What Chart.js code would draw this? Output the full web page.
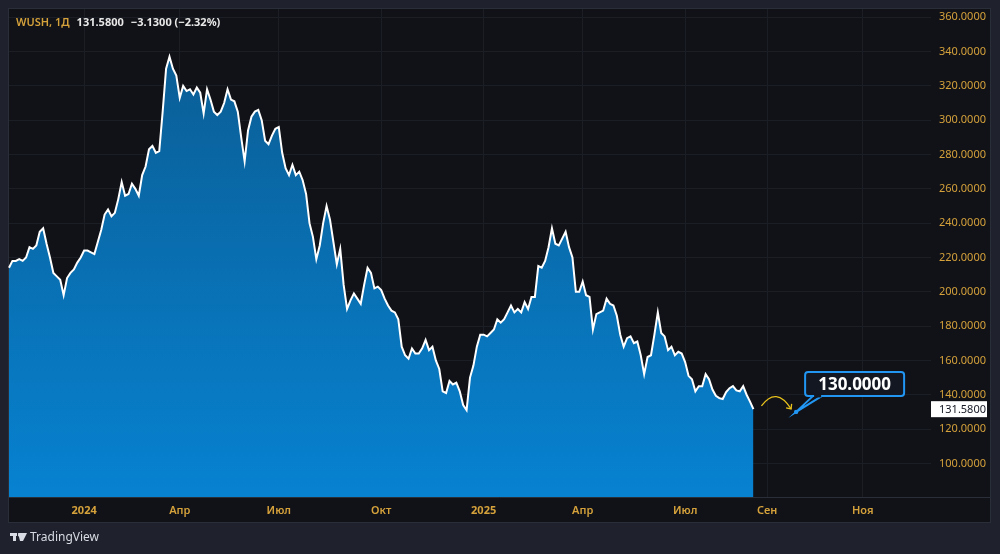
<!DOCTYPE html>
<html><head><meta charset="utf-8">
<script src="https://cdn.jsdelivr.net/npm/chart.js@4"></script>
<style>html,body{margin:0;padding:0;background:#1f222c;overflow:hidden}canvas{display:block}</style>
</head><body><canvas id="c" width="1000" height="554"></canvas>
<script>
const symbol = 'WUSH, 1Д';
const lastPrice = 131.58;
const priceChange = -3.13;
const priceChangePct = -2.32;

// Close prices, one slot per bar group
const prices = [
214,218,218,219,218,220,226,225,227,235,237,228,220,211,209,207,198,208,211,213,
217,220,224,224,223,222,229,236,245,248,244,246,254,264,256,257,263,260,256,268,
273,283,285,281,282,305,330,337,330,326,313,320,317,318,315,319,316,304,318,312,
305,303,305,310,318,312,311,305,290,276,294,302,305,306,300,288,286,291,295,296,
281,272,268,274,268,270,265,257,240,232,219,227,240,250,242,229,216,225,204,190,
195,199,196,193,204,214,211,202,203,201,196,192,189,188,184,168,163,161,167,164,
164,167,172,166,168,160,155,142,141,148,146,147,142,134,131,150,157,168,175,175,
174,176,178,184,182,184,188,192,188,190,188,194,190,197,197,215,214,218,226,237,
228,227,231,235,226,220,200,200,206,198,197,178,187,188,189,196,193,192,186,175,
168,173,174,170,171,163,152,162,163,175,188,176,174,166,168,163,165,164,159,151,
149,142,145,145,152,149,143,139.4,138,137.5,141.5,143.8,145,142.5,142,145,140,136,131.58
];

// X axis: month tick labels and the bar slot where each month starts
const tickNames = ['2024','Апр','Июл','Окт','2025','Апр','Июл','Сен','Ноя'];
const tickSlots = [22, 50, 79, 109, 139, 168, 198, 222, 250];
const totalSlots = 271;

// Y axis range and step
const yMin = 80.4, yMax = 364.8, yStep = 20;

// Price target note
const targetPrice = 130;
const targetSlot = 230.5;

const categories = Array.from({length: totalSlots}, (_, i) => {
  const k = tickSlots.indexOf(i);
  return k >= 0 ? tickNames[k] : '';
});

const GOLD = '#d4a13b';
const FONT = '"Noto Sans", "Open Sans", Roboto, sans-serif';

const bgPlugin = {
  id: 'bg',
  beforeDraw(chart) {
    const c = chart.ctx;
    c.save();
    c.fillStyle = '#1f222c';
    c.fillRect(0, 0, chart.width, chart.height);
    c.fillStyle = '#111217';
    c.fillRect(9, 9, 981, 513);
    c.strokeStyle = '#2a2e39';
    c.lineWidth = 1;
    c.strokeRect(8.5, 8.5, 982, 514);
    c.restore();
  },
  afterDraw(chart) {
    const c = chart.ctx;
    const xs = chart.scales.x, ys = chart.scales.y;
    const area = chart.chartArea;
    c.save();
    c.strokeStyle = '#2a2e39';
    c.lineWidth = 1;
    c.beginPath();
    c.moveTo(9, area.bottom + 0.5);
    c.lineTo(990, area.bottom + 0.5);
    c.stroke();

    // header
    c.textBaseline = 'middle';
    c.font = '600 11px ' + FONT;
    c.fillStyle = GOLD;
    c.fillText(symbol, 16, 23);
    let x = 16 + c.measureText(symbol).width + 7;
    c.font = 'bold 11px ' + FONT;
    c.fillStyle = '#e8e8e8';
    const s1 = lastPrice.toFixed(4);
    c.fillText(s1, x, 23);
    x += c.measureText(s1).width + 7;
    const s2 = '\u2212' + Math.abs(priceChange).toFixed(4) + ' (\u2212' + Math.abs(priceChangePct).toFixed(2) + '%)';
    c.fillText(s2, x, 23);

    // last price label on axis
    const py = ys.getPixelForValue(lastPrice);
    c.fillStyle = '#ffffff';
    c.fillRect(area.right, py - 8, 56, 16);
    c.fillStyle = '#131722';
    c.font = '11px ' + FONT;
    c.textAlign = 'left';
    c.fillText(lastPrice.toFixed(4), area.right + 8, py + 0.5);

    // target callout
    const tx = xs.getPixelForValue(targetSlot);
    const ty = ys.getPixelForValue(targetPrice);
    const bx = tx + 9, by = ty - 40, bw = 99, bh = 24;
    c.strokeStyle = '#2196f3';
    c.lineWidth = 2;
    c.fillStyle = '#131722';
    c.beginPath();
    c.roundRect(bx, by, bw, bh, 3);
    c.fill();
    c.stroke();
    c.beginPath();
    c.moveTo(bx + 8, by + bh);
    c.lineTo(tx, ty);
    c.lineTo(bx + 17, by + bh);
    c.stroke();
    c.fillStyle = '#131722';
    c.fillRect(bx + 9, by + bh - 1.5, 7, 3);
    c.fillStyle = '#2196f3';
    c.beginPath();
    c.arc(tx, ty, 2.2, 0, Math.PI * 2);
    c.fill();
    c.fillStyle = '#ffffff';
    c.font = 'bold 17px ' + FONT;
    c.textAlign = 'center';
    c.fillText(targetPrice.toFixed(4), bx + bw / 2, by + bh / 2 + 1);

    // yellow curved arrow
    const ax0 = xs.getPixelForValue(prices.length - 1) + 8;
    const ay0 = ty - 6;
    const ax1 = tx - 5, ay1 = ty - 3;
    c.strokeStyle = '#e8c21c';
    c.lineWidth = 1.3;
    c.beginPath();
    c.moveTo(ax0, ay0);
    c.quadraticCurveTo((ax0 + ax1) / 2, ay0 - 20, ax1, ay1);
    c.stroke();
    c.beginPath();
    c.moveTo(ax1 - 5, ay1 - 1);
    c.lineTo(ax1, ay1);
    c.lineTo(ax1 + 0.5, ay1 - 5);
    c.stroke();

    // TradingView logo
    c.fillStyle = '#d8dbe3';
    c.fillRect(10, 533, 7, 3);
    c.fillRect(13, 533, 3, 8);
    c.beginPath();
    c.moveTo(18, 533); c.lineTo(27, 533); c.lineTo(23, 541); c.lineTo(20, 541);
    c.closePath(); c.fill();
    c.beginPath(); c.arc(19.5, 535, 1.6, 0, Math.PI * 2); c.fill();
    c.font = '12px ' + FONT;
    c.textAlign = 'left';
    c.fillStyle = '#d8dbe3';
    c.fillText('TradingView', 30, 538);
    c.restore();
  }
};

new Chart(document.getElementById('c'), {
  type: 'line',
  data: {
    labels: categories,
    datasets: [{
      data: prices,
      borderColor: '#ffffff',
      borderWidth: 2,
      pointRadius: 0,
      tension: 0,
      fill: 'start',
      backgroundColor(ctx) {
        const a = ctx.chart.chartArea;
        if (!a) return '#0a74ba';
        const g = ctx.chart.ctx.createLinearGradient(0, a.top, 0, a.bottom);
        g.addColorStop(0, '#0b5a8f');
        g.addColorStop(1, '#0782d1');
        return g;
      }
    }]
  },
  options: {
    responsive: false,
    animation: false,
    layout: {padding: {left: 9, top: 9, right: 10, bottom: 32}},
    plugins: {legend: {display: false}, tooltip: {enabled: false}},
    scales: {
      x: {
        type: 'category',
        offset: false,
        afterFit(s) { s.height = 25; s.paddingLeft = 0; s.paddingRight = 0; },
        afterBuildTicks(s) {
          s.ticks = s.ticks.filter(t => s.chart.data.labels[t.value] !== '');
        },
        grid: {color: '#1c1e25', drawTicks: false},
        border: {display: false},
        ticks: {
          autoSkip: false, maxRotation: 0, padding: 7, color: GOLD,
          font(ctx) {
            const lbl = ctx.tick ? categories[ctx.tick.value] : '';
            return {family: FONT, size: 11, weight: /^\d{4}$/.test(lbl) ? 'bold' : '600'};
          }
        }
      },
      y: {
        position: 'right',
        min: yMin, max: yMax,
        afterFit(s) { s.width = 59; s.paddingTop = 0; s.paddingBottom = 0; },
        grid: {color: '#1c1e25', drawTicks: false},
        border: {display: false},
        ticks: {
          stepSize: yStep, includeBounds: false, padding: 8, color: GOLD,
          font: {family: FONT, size: 11},
          callback: v => Number(v).toFixed(4)
        }
      }
    }
  },
  plugins: [bgPlugin]
});
</script>
</body></html>
